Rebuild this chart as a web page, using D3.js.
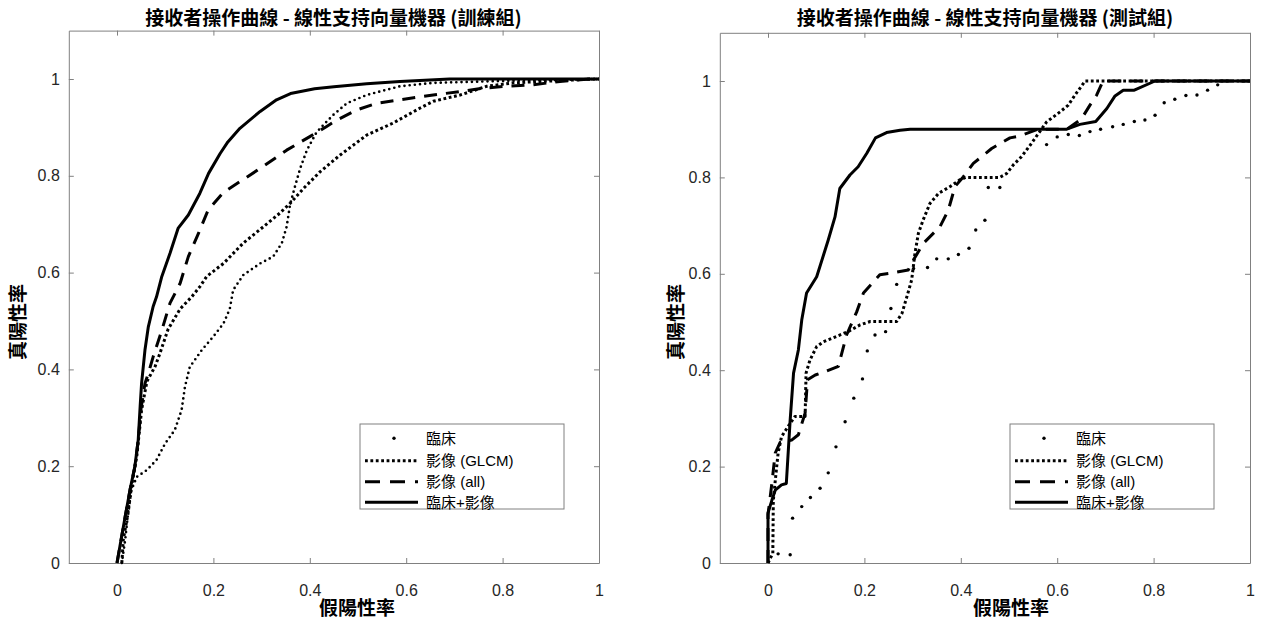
<!DOCTYPE html>
<html><head><meta charset="utf-8">
<script src="https://cdn.jsdelivr.net/npm/d3@7"></script>
<style>
body{margin:0;background:#fff;}
svg{display:block;}
</style></head>
<body>
<svg id="c" width="1266" height="623"></svg>
<script>
// ---------------- DATA ----------------
const xTicks = [0, 0.2, 0.4, 0.6, 0.8, 1];
const yTicks = [0, 0.2, 0.4, 0.6, 0.8, 1];
const xTickLabels = ["0", "0.2", "0.4", "0.6", "0.8", "1"];
const yTickLabels = ["0", "0.2", "0.4", "0.6", "0.8", "1"];
const seriesNames = ["臨床", "影像 (GLCM)", "影像 (all)", "臨床+影像"];
const titles = ["接收者操作曲線 - 線性支持向量機器 (訓練組)", "接收者操作曲線 - 線性支持向量機器 (測試組)"];
const xLabel = "假陽性率";
const yLabel = "真陽性率";

// Training set (FPR, TPR)
const trainClinical = [[0.01,0],[0.017,0.048],[0.023,0.103],[0.03,0.151],[0.041,0.178],[0.062,0.192],[0.082,0.213],[0.1,0.247],[0.12,0.275],[0.134,0.316],[0.141,0.364],[0.151,0.405],[0.176,0.44],[0.2,0.468],[0.221,0.495],[0.234,0.525],[0.241,0.564],[0.262,0.595],[0.297,0.619],[0.324,0.633],[0.342,0.661],[0.352,0.695],[0.359,0.74],[0.369,0.777],[0.38,0.815],[0.394,0.853],[0.414,0.89],[0.435,0.912],[0.449,0.926],[0.477,0.95],[0.518,0.967],[0.587,0.985],[0.656,0.992],[0.8,0.996],[1,1]];
const trainGLCM = [[0.01,0],[0.013,0.048],[0.023,0.103],[0.03,0.158],[0.041,0.22],[0.051,0.316],[0.062,0.375],[0.079,0.406],[0.089,0.433],[0.106,0.483],[0.131,0.525],[0.155,0.55],[0.172,0.571],[0.186,0.592],[0.221,0.619],[0.262,0.661],[0.304,0.695],[0.338,0.723],[0.359,0.743],[0.387,0.774],[0.421,0.808],[0.463,0.843],[0.518,0.884],[0.573,0.909],[0.629,0.94],[0.656,0.954],[0.712,0.967],[0.767,0.985],[0.822,0.992],[0.878,0.995],[0.967,0.999],[1,1]];
const trainAll = [[0,0],[0.006,0.034],[0.017,0.096],[0.027,0.151],[0.037,0.199],[0.044,0.254],[0.05,0.32],[0.058,0.371],[0.065,0.392],[0.075,0.426],[0.093,0.481],[0.11,0.537],[0.131,0.578],[0.148,0.633],[0.169,0.681],[0.189,0.729],[0.221,0.766],[0.266,0.795],[0.307,0.822],[0.352,0.853],[0.4,0.881],[0.435,0.902],[0.456,0.915],[0.497,0.936],[0.539,0.95],[0.587,0.957],[0.656,0.967],[0.712,0.974],[0.76,0.981],[0.808,0.985],[0.863,0.988],[0.919,0.995],[0.981,1],[1,1]];
const trainCombined = [[0,0],[0.006,0.034],[0.017,0.096],[0.027,0.151],[0.037,0.199],[0.044,0.254],[0.048,0.323],[0.051,0.371],[0.058,0.44],[0.065,0.488],[0.075,0.53],[0.082,0.55],[0.093,0.592],[0.11,0.64],[0.127,0.692],[0.148,0.719],[0.172,0.764],[0.19,0.805],[0.214,0.846],[0.23,0.87],[0.255,0.898],[0.297,0.933],[0.331,0.957],[0.36,0.97],[0.41,0.98],[0.45,0.984],[0.518,0.99],[0.587,0.995],[0.69,1],[1,1]];

// Test set (FPR, TPR)
const testClinical = [[0.021,0.019],[0.046,0.017],[0.051,0.093],[0.07,0.117],[0.088,0.136],[0.108,0.155],[0.125,0.187],[0.141,0.241],[0.16,0.293],[0.178,0.342],[0.196,0.382],[0.206,0.44],[0.222,0.473],[0.244,0.48],[0.255,0.528],[0.267,0.578],[0.302,0.611],[0.331,0.613],[0.35,0.631],[0.374,0.631],[0.395,0.64],[0.417,0.653],[0.431,0.691],[0.45,0.711],[0.457,0.779],[0.481,0.779],[0.578,0.868],[0.6,0.884],[0.623,0.889],[0.646,0.887],[0.668,0.895],[0.69,0.9],[0.715,0.905],[0.737,0.91],[0.76,0.916],[0.782,0.919],[0.803,0.929],[0.822,0.955],[0.844,0.962],[0.867,0.97],[0.89,0.971],[0.912,0.981],[0.933,0.992]];
const testGLCM = [[0,0],[0.01,0.02],[0.011,0.13],[0.018,0.2],[0.021,0.228],[0.028,0.262],[0.046,0.29],[0.056,0.304],[0.077,0.304],[0.079,0.394],[0.087,0.421],[0.101,0.449],[0.115,0.459],[0.142,0.47],[0.166,0.48],[0.191,0.494],[0.212,0.501],[0.267,0.501],[0.278,0.518],[0.288,0.552],[0.298,0.587],[0.305,0.643],[0.312,0.684],[0.322,0.712],[0.336,0.746],[0.354,0.767],[0.378,0.781],[0.398,0.795],[0.41,0.8],[0.481,0.8],[0.495,0.808],[0.509,0.826],[0.526,0.843],[0.544,0.867],[0.561,0.891],[0.578,0.915],[0.606,0.936],[0.623,0.95],[0.637,0.971],[0.658,1],[1,1]];
const testAll = [[0,0],[0,0.1],[0.008,0.165],[0.015,0.228],[0.025,0.25],[0.049,0.255],[0.063,0.266],[0.077,0.311],[0.082,0.38],[0.098,0.39],[0.118,0.397],[0.146,0.408],[0.153,0.435],[0.163,0.473],[0.184,0.521],[0.198,0.56],[0.232,0.598],[0.253,0.601],[0.291,0.608],[0.302,0.629],[0.322,0.663],[0.357,0.698],[0.374,0.732],[0.388,0.781],[0.405,0.801],[0.426,0.829],[0.464,0.86],[0.502,0.882],[0.523,0.886],[0.56,0.9],[0.62,0.9],[0.65,0.921],[0.668,0.95],[0.682,0.971],[0.695,1],[1,1]];
const testCombined = [[0,0],[0,0.104],[0.008,0.13],[0.015,0.151],[0.028,0.162],[0.038,0.165],[0.046,0.297],[0.053,0.394],[0.063,0.442],[0.07,0.504],[0.08,0.56],[0.101,0.594],[0.125,0.67],[0.139,0.718],[0.149,0.777],[0.17,0.805],[0.187,0.822],[0.205,0.85],[0.223,0.882],[0.246,0.893],[0.274,0.898],[0.295,0.9],[0.62,0.9],[0.647,0.91],[0.68,0.916],[0.703,0.943],[0.72,0.969],[0.737,0.981],[0.76,0.981],[0.803,1],[1,1]];

// ---------------- DRAW ----------------
const svg = d3.select("#c");
svg.append("rect").attr("width",1266).attr("height",623).attr("fill","#fff");
const latin = "'Liberation Sans', Arial, 'Noto Sans CJK TC', sans-serif";
const cjk = "'Noto Sans CJK TC', 'Noto Sans CJK SC', sans-serif";
const boxColor = "#808080", textColor = "#262626";

const panels = [
  {xr:[68.8,599], yr:[563,30.6], title:titles[0], titleX:333.5, xlabX:357, ylabX:18,
   legX:360, clinicalMode:"line",
   data:[trainClinical, trainGLCM, trainAll, trainCombined]},
  {xr:[719.8,1250], yr:[563,32.8], title:titles[1], titleX:985, xlabX:1011, ylabX:676,
   legX:1010, clinicalMode:"markers",
   data:[testClinical, testGLCM, testAll, testCombined]}
];

const styles = [
  {w:2.7, dash:"0,5.2", cap:"round"},
  {w:3, dash:"2.8,2.6", cap:"butt"},
  {w:3, dash:"13,9", cap:"butt"},
  {w:3, dash:null, cap:"butt"}
];

panels.forEach(p => {
  const x = d3.scaleLinear().domain([-0.1,1]).range(p.xr);
  const y = d3.scaleLinear().domain([0,1.1]).range(p.yr);
  const g = svg.append("g");

  const styleAxis = sel => {
    sel.selectAll("path.domain").attr("stroke", boxColor).attr("stroke-width",1);
    sel.selectAll(".tick line").attr("stroke", boxColor).attr("stroke-width",1);
    sel.selectAll(".tick text").attr("fill", textColor).style("font-family", latin).style("font-size","16px");
    sel.attr("font-family", null).attr("font-size", null);
  };

  g.append("g").attr("transform",`translate(0,${p.yr[0]})`)
    .call(d3.axisBottom(x).tickValues(xTicks).tickFormat((d,i)=>xTickLabels[i]).tickSizeInner(-5).tickSizeOuter(0).tickPadding(21.5))
    .call(styleAxis);
  g.append("g").attr("transform",`translate(0,${p.yr[1]})`)
    .call(d3.axisTop(x).tickValues(xTicks).tickFormat("").tickSizeInner(-5).tickSizeOuter(0))
    .call(styleAxis);
  g.append("g").attr("transform",`translate(${p.xr[0]},0)`)
    .call(d3.axisLeft(y).tickValues(yTicks).tickFormat((d,i)=>yTickLabels[i]).tickSizeInner(-5).tickSizeOuter(0).tickPadding(9))
    .call(styleAxis);
  g.append("g").attr("transform",`translate(${p.xr[1]},0)`)
    .call(d3.axisRight(y).tickValues(yTicks).tickFormat("").tickSizeInner(-5).tickSizeOuter(0))
    .call(styleAxis);

  const line = d3.line().x(d=>x(d[0])).y(d=>y(d[1]));
  p.data.forEach((ser,i) => {
    const st = styles[i];
    if (i===0 && p.clinicalMode==="markers") {
      g.append("g").selectAll("circle").data(ser).join("circle")
        .attr("cx",d=>x(d[0])).attr("cy",d=>y(d[1])).attr("r",1.7).attr("fill","#000");
    } else {
      const path = g.append("path").datum(ser).attr("d",line)
        .attr("fill","none").attr("stroke","#000").attr("stroke-width",st.w)
        .attr("stroke-linecap",st.cap).attr("stroke-linejoin","round");
      if (st.dash) path.attr("stroke-dasharray", st.dash);
    }
  });

  // title & labels
  g.append("text").attr("x",p.titleX).attr("y",25).attr("text-anchor","middle")
    .style("font-family",cjk).style("font-size","19px").style("font-weight","bold").attr("fill","#000")
    .text(p.title);
  g.append("text").attr("x",p.xlabX).attr("y",615).attr("text-anchor","middle")
    .style("font-family",cjk).style("font-size","19px").style("font-weight","bold").attr("fill","#000")
    .text(xLabel);
  g.append("text").attr("transform",`translate(${p.ylabX},322) rotate(-90)`).attr("text-anchor","middle")
    .attr("dy","0.35em")
    .style("font-family",cjk).style("font-size","19px").style("font-weight","bold").attr("fill","#000")
    .text(yLabel);

  // legend
  const lg = g.append("g").attr("transform",`translate(${p.legX},424)`);
  lg.append("rect").attr("x",0).attr("y",0).attr("width",204).attr("height",85)
    .attr("fill","#fff").attr("stroke",boxColor).attr("stroke-width",1);
  const rows = [14.3, 36.7, 57.7, 78.3];
  seriesNames.forEach((nm,i) => {
    const st = styles[i];
    if (i===0) {
      lg.append("circle").attr("cx",34).attr("cy",rows[i]).attr("r",1.7).attr("fill","#000");
    } else {
      const l = lg.append("line").attr("x1",5).attr("x2",58).attr("y1",rows[i]).attr("y2",rows[i])
        .attr("stroke","#000").attr("stroke-width",st.w).attr("stroke-linecap",st.cap);
      if (st.dash) l.attr("stroke-dasharray", i===2 ? "15,10" : st.dash);
    }
    lg.append("text").attr("x",66).attr("y",rows[i]).attr("dy","0.35em")
      .style("font-family",latin).style("font-size","15px").attr("fill","#000").text(nm);
  });
});
</script>
</body></html>
